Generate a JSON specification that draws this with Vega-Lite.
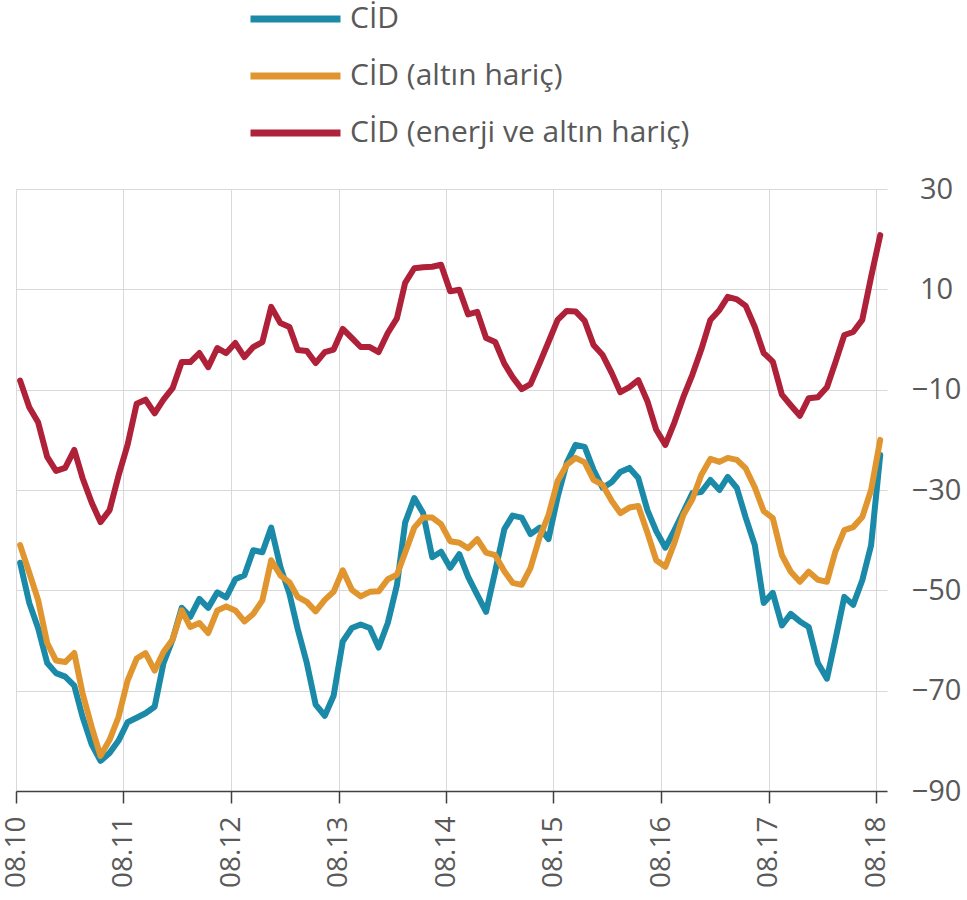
{
  "$schema": "https://vega.github.io/schema/vega-lite/v6.json",
  "width": 871,
  "height": 602,
  "autosize": {"type": "none"},
  "padding": {"left": 16, "top": 189, "right": 80, "bottom": 109},
  "background": "white",
  "config": {"view": {"stroke": null}, "font": "Open Sans"},
  "data": {"values": [
    {"d":"2010-08-15","CİD":-44.5,"CİD (altın hariç)":-41,"CİD (enerji ve altın hariç)":-8.2},
    {"d":"2010-09-15","CİD":-52.5,"CİD (altın hariç)":-46.5,"CİD (enerji ve altın hariç)":-13.5},
    {"d":"2010-10-15","CİD":-57.5,"CİD (altın hariç)":-51.9,"CİD (enerji ve altın hariç)":-16.5},
    {"d":"2010-11-15","CİD":-64.5,"CİD (altın hariç)":-60.5,"CİD (enerji ve altın hariç)":-23.4},
    {"d":"2010-12-15","CİD":-66.5,"CİD (altın hariç)":-64,"CİD (enerji ve altın hariç)":-26.2},
    {"d":"2011-01-15","CİD":-67.2,"CİD (altın hariç)":-64.3,"CİD (enerji ve altın hariç)":-25.6},
    {"d":"2011-02-15","CİD":-69,"CİD (altın hariç)":-62.5,"CİD (enerji ve altın hariç)":-22},
    {"d":"2011-03-15","CİD":-75.2,"CİD (altın hariç)":-70.5,"CİD (enerji ve altın hariç)":-27.6},
    {"d":"2011-04-15","CİD":-80.7,"CİD (altın hariç)":-77.2,"CİD (enerji ve altın hariç)":-32.5},
    {"d":"2011-05-15","CİD":-84,"CİD (altın hariç)":-83,"CİD (enerji ve altın hariç)":-36.4},
    {"d":"2011-06-15","CİD":-82.4,"CİD (altın hariç)":-79.8,"CİD (enerji ve altın hariç)":-34},
    {"d":"2011-07-15","CİD":-80,"CİD (altın hariç)":-75.3,"CİD (enerji ve altın hariç)":-27.2},
    {"d":"2011-08-15","CİD":-76.3,"CİD (altın hariç)":-68,"CİD (enerji ve altın hariç)":-21},
    {"d":"2011-09-15","CİD":-75.4,"CİD (altın hariç)":-63.6,"CİD (enerji ve altın hariç)":-12.8},
    {"d":"2011-10-15","CİD":-74.5,"CİD (altın hariç)":-62.5,"CİD (enerji ve altın hariç)":-12},
    {"d":"2011-11-15","CİD":-73.2,"CİD (altın hariç)":-66,"CİD (enerji ve altın hariç)":-14.7},
    {"d":"2011-12-15","CİD":-64.5,"CİD (altın hariç)":-62.3,"CİD (enerji ve altın hariç)":-12},
    {"d":"2012-01-15","CİD":-59.8,"CİD (altın hariç)":-59.8,"CİD (enerji ve altın hariç)":-9.7},
    {"d":"2012-02-15","CİD":-53.5,"CİD (altın hariç)":-54,"CİD (enerji ve altın hariç)":-4.5},
    {"d":"2012-03-15","CİD":-55.3,"CİD (altın hariç)":-57.3,"CİD (enerji ve altın hariç)":-4.5},
    {"d":"2012-04-15","CİD":-51.7,"CİD (altın hariç)":-56.5,"CİD (enerji ve altın hariç)":-2.7},
    {"d":"2012-05-15","CİD":-53.5,"CİD (altın hariç)":-58.5,"CİD (enerji ve altın hariç)":-5.5},
    {"d":"2012-06-15","CİD":-50.4,"CİD (altın hariç)":-54,"CİD (enerji ve altın hariç)":-1.7},
    {"d":"2012-07-15","CİD":-51.4,"CİD (altın hariç)":-53.2,"CİD (enerji ve altın hariç)":-2.7},
    {"d":"2012-08-15","CİD":-47.8,"CİD (altın hariç)":-54,"CİD (enerji ve altın hariç)":-0.7},
    {"d":"2012-09-15","CİD":-47,"CİD (altın hariç)":-56.2,"CİD (enerji ve altın hariç)":-3.5},
    {"d":"2012-10-15","CİD":-42,"CİD (altın hariç)":-54.7,"CİD (enerji ve altın hariç)":-1.5},
    {"d":"2012-11-15","CİD":-42.4,"CİD (altın hariç)":-52,"CİD (enerji ve altın hariç)":-0.5},
    {"d":"2012-12-15","CİD":-37.5,"CİD (altın hariç)":-44,"CİD (enerji ve altın hariç)":6.5},
    {"d":"2013-01-15","CİD":-45.3,"CİD (altın hariç)":-47,"CİD (enerji ve altın hariç)":3.3},
    {"d":"2013-02-15","CİD":-50.7,"CİD (altın hariç)":-48.4,"CİD (enerji ve altın hariç)":2.5},
    {"d":"2013-03-15","CİD":-57.7,"CİD (altın hariç)":-51.3,"CİD (enerji ve altın hariç)":-2.1},
    {"d":"2013-04-15","CİD":-64.5,"CİD (altın hariç)":-52.3,"CİD (enerji ve altın hariç)":-2.3},
    {"d":"2013-05-15","CİD":-72.8,"CİD (altın hariç)":-54.2,"CİD (enerji ve altın hariç)":-4.7},
    {"d":"2013-06-15","CİD":-75,"CİD (altın hariç)":-51.9,"CİD (enerji ve altın hariç)":-2.5},
    {"d":"2013-07-15","CİD":-71,"CİD (altın hariç)":-50.3,"CİD (enerji ve altın hariç)":-2},
    {"d":"2013-08-15","CİD":-60.2,"CİD (altın hariç)":-46,"CİD (enerji ve altın hariç)":2.1},
    {"d":"2013-09-15","CİD":-57.5,"CİD (altın hariç)":-49.9,"CİD (enerji ve altın hariç)":0.3},
    {"d":"2013-10-15","CİD":-56.8,"CİD (altın hariç)":-51.2,"CİD (enerji ve altın hariç)":-1.5},
    {"d":"2013-11-15","CİD":-57.5,"CİD (altın hariç)":-50.3,"CİD (enerji ve altın hariç)":-1.5},
    {"d":"2013-12-15","CİD":-61.4,"CİD (altın hariç)":-50.2,"CİD (enerji ve altın hariç)":-2.5},
    {"d":"2014-01-15","CİD":-56.5,"CİD (altın hariç)":-47.8,"CİD (enerji ve altın hariç)":1.3},
    {"d":"2014-02-15","CİD":-49,"CİD (altın hariç)":-46.9,"CİD (enerji ve altın hariç)":4.2},
    {"d":"2014-03-15","CİD":-36.5,"CİD (altın hariç)":-42.5,"CİD (enerji ve altın hariç)":11.3},
    {"d":"2014-04-15","CİD":-31.6,"CİD (altın hariç)":-37.5,"CİD (enerji ve altın hariç)":14.2},
    {"d":"2014-05-15","CİD":-34.6,"CİD (altın hariç)":-35.5,"CİD (enerji ve altın hariç)":14.4},
    {"d":"2014-06-15","CİD":-43.4,"CİD (altın hariç)":-35.5,"CİD (enerji ve altın hariç)":14.5},
    {"d":"2014-07-15","CİD":-42.3,"CİD (altın hariç)":-36.8,"CİD (enerji ve altın hariç)":14.9},
    {"d":"2014-08-15","CİD":-45.5,"CİD (altın hariç)":-40.2,"CİD (enerji ve altın hariç)":9.6},
    {"d":"2014-09-15","CİD":-42.8,"CİD (altın hariç)":-40.5,"CİD (enerji ve altın hariç)":9.9},
    {"d":"2014-10-15","CİD":-47.3,"CİD (altın hariç)":-41.6,"CİD (enerji ve altın hariç)":5},
    {"d":"2014-11-15","CİD":-50.9,"CİD (altın hariç)":-39.8,"CİD (enerji ve altın hariç)":5.5},
    {"d":"2014-12-15","CİD":-54.3,"CİD (altın hariç)":-42.5,"CİD (enerji ve altın hariç)":0.3},
    {"d":"2015-01-15","CİD":-46.2,"CİD (altın hariç)":-43,"CİD (enerji ve altın hariç)":-0.5},
    {"d":"2015-02-15","CİD":-37.8,"CİD (altın hariç)":-46.2,"CİD (enerji ve altın hariç)":-4.8},
    {"d":"2015-03-15","CİD":-35.1,"CİD (altın hariç)":-48.5,"CİD (enerji ve altın hariç)":-7.5},
    {"d":"2015-04-15","CİD":-35.5,"CİD (altın hariç)":-48.9,"CİD (enerji ve altın hariç)":-9.9},
    {"d":"2015-05-15","CİD":-38.8,"CİD (altın hariç)":-45.5,"CİD (enerji ve altın hariç)":-8.9},
    {"d":"2015-06-15","CİD":-37.5,"CİD (altın hariç)":-39.4,"CİD (enerji ve altın hariç)":-4.7},
    {"d":"2015-07-15","CİD":-39.8,"CİD (altın hariç)":-35,"CİD (enerji ve altın hariç)":-0.5},
    {"d":"2015-08-15","CİD":-31.4,"CİD (altın hariç)":-28.2,"CİD (enerji ve altın hariç)":3.9},
    {"d":"2015-09-15","CİD":-24.6,"CİD (altın hariç)":-25,"CİD (enerji ve altın hariç)":5.7},
    {"d":"2015-10-15","CİD":-21,"CİD (altın hariç)":-23.6,"CİD (enerji ve altın hariç)":5.6},
    {"d":"2015-11-15","CİD":-21.4,"CİD (altın hariç)":-24.5,"CİD (enerji ve altın hariç)":3.7},
    {"d":"2015-12-15","CİD":-26,"CİD (altın hariç)":-28,"CİD (enerji ve altın hariç)":-1.1},
    {"d":"2016-01-15","CİD":-29.6,"CİD (altın hariç)":-29,"CİD (enerji ve altın hariç)":-3.1},
    {"d":"2016-02-15","CİD":-28.4,"CİD (altın hariç)":-32.2,"CİD (enerji ve altın hariç)":-6.7},
    {"d":"2016-03-15","CİD":-26.4,"CİD (altın hariç)":-34.6,"CİD (enerji ve altın hariç)":-10.5},
    {"d":"2016-04-15","CİD":-25.6,"CİD (altın hariç)":-33.5,"CİD (enerji ve altın hariç)":-9.5},
    {"d":"2016-05-15","CİD":-27.6,"CİD (altın hariç)":-33.2,"CİD (enerji ve altın hariç)":-8.1},
    {"d":"2016-06-15","CİD":-34,"CİD (altın hariç)":-38.5,"CİD (enerji ve altın hariç)":-12.3},
    {"d":"2016-07-15","CİD":-38.2,"CİD (altın hariç)":-44,"CİD (enerji ve altın hariç)":-18},
    {"d":"2016-08-15","CİD":-41.5,"CİD (altın hariç)":-45.3,"CİD (enerji ve altın hariç)":-21},
    {"d":"2016-09-15","CİD":-38,"CİD (altın hariç)":-40.5,"CİD (enerji ve altın hariç)":-16.5},
    {"d":"2016-10-15","CİD":-34.4,"CİD (altın hariç)":-35,"CİD (enerji ve altın hariç)":-11.5},
    {"d":"2016-11-15","CİD":-30.6,"CİD (altın hariç)":-31.8,"CİD (enerji ve altın hariç)":-7},
    {"d":"2016-12-15","CİD":-30.4,"CİD (altın hariç)":-27,"CİD (enerji ve altın hariç)":-2},
    {"d":"2017-01-15","CİD":-28,"CİD (altın hariç)":-23.8,"CİD (enerji ve altın hariç)":3.9},
    {"d":"2017-02-15","CİD":-30,"CİD (altın hariç)":-24.4,"CİD (enerji ve altın hariç)":5.9},
    {"d":"2017-03-15","CİD":-27.4,"CİD (altın hariç)":-23.6,"CİD (enerji ve altın hariç)":8.5},
    {"d":"2017-04-15","CİD":-29.6,"CİD (altın hariç)":-24,"CİD (enerji ve altın hariç)":8},
    {"d":"2017-05-15","CİD":-35.5,"CİD (altın hariç)":-25.7,"CİD (enerji ve altın hariç)":6.7},
    {"d":"2017-06-15","CİD":-41,"CİD (altın hariç)":-29.5,"CİD (enerji ve altın hariç)":2.5},
    {"d":"2017-07-15","CİD":-52.5,"CİD (altın hariç)":-34.2,"CİD (enerji ve altın hariç)":-2.7},
    {"d":"2017-08-15","CİD":-50.5,"CİD (altın hariç)":-35.6,"CİD (enerji ve altın hariç)":-4.4},
    {"d":"2017-09-15","CİD":-57,"CİD (altın hariç)":-43,"CİD (enerji ve altın hariç)":-11},
    {"d":"2017-10-15","CİD":-54.7,"CİD (altın hariç)":-46.3,"CİD (enerji ve altın hariç)":-13.1},
    {"d":"2017-11-15","CİD":-56.2,"CİD (altın hariç)":-48.3,"CİD (enerji ve altın hariç)":-15.2},
    {"d":"2017-12-15","CİD":-57.3,"CİD (altın hariç)":-46.3,"CİD (enerji ve altın hariç)":-11.7},
    {"d":"2018-01-15","CİD":-64.5,"CİD (altın hariç)":-47.9,"CİD (enerji ve altın hariç)":-11.5},
    {"d":"2018-02-15","CİD":-67.6,"CİD (altın hariç)":-48.3,"CİD (enerji ve altın hariç)":-9.5},
    {"d":"2018-03-15","CİD":-60,"CİD (altın hariç)":-42.4,"CİD (enerji ve altın hariç)":-4.7},
    {"d":"2018-04-15","CİD":-51.3,"CİD (altın hariç)":-38,"CİD (enerji ve altın hariç)":0.9},
    {"d":"2018-05-15","CİD":-52.9,"CİD (altın hariç)":-37.4,"CİD (enerji ve altın hariç)":1.5},
    {"d":"2018-06-15","CİD":-48,"CİD (altın hariç)":-35.4,"CİD (enerji ve altın hariç)":3.9},
    {"d":"2018-07-15","CİD":-41,"CİD (altın hariç)":-30,"CİD (enerji ve altın hariç)":12.5},
    {"d":"2018-08-15","CİD":-23,"CİD (altın hariç)":-20,"CİD (enerji ve altın hariç)":20.8}
  ]},
  "transform": [
    {"fold": ["CİD", "CİD (altın hariç)", "CİD (enerji ve altın hariç)"], "as": ["s", "v"]}
  ],
  "mark": {"type": "line", "strokeWidth": 6, "strokeJoin": "round", "strokeCap": "round"},
  "encoding": {
    "x": {
      "field": "d",
      "type": "temporal",
      "scale": {
        "type": "utc",
        "domain": [
          {"year": 2010, "month": 8, "date": 1, "utc": true},
          {"year": 2018, "month": 9, "date": 7, "utc": true}
        ]
      },
      "axis": {
        "title": null,
        "values": [
          {"year": 2010, "month": 8, "date": 1, "utc": true},
          {"year": 2011, "month": 8, "date": 1, "utc": true},
          {"year": 2012, "month": 8, "date": 1, "utc": true},
          {"year": 2013, "month": 8, "date": 1, "utc": true},
          {"year": 2014, "month": 8, "date": 1, "utc": true},
          {"year": 2015, "month": 8, "date": 1, "utc": true},
          {"year": 2016, "month": 8, "date": 1, "utc": true},
          {"year": 2017, "month": 8, "date": 1, "utc": true},
          {"year": 2018, "month": 8, "date": 1, "utc": true}
        ],
        "format": "%m.%y",
        "labelAngle": -90,
        "labelFontSize": 28,
        "labelColor": "#595959",
        "labelPadding": 13,
        "domainColor": "#404040",
        "domainWidth": 1.5,
        "tickColor": "#404040",
        "tickWidth": 1.5,
        "tickSize": 12,
        "grid": true,
        "gridColor": "#d9d9d9",
        "gridWidth": 1,
        "labelOverlap": false,
        "labelBound": false
      }
    },
    "y": {
      "field": "v",
      "type": "quantitative",
      "scale": {"domain": [-90, 30], "nice": false, "zero": false},
      "axis": {
        "orient": "right",
        "title": null,
        "values": [-90, -70, -50, -30, -10, 10, 30],
        "domain": false,
        "ticks": false,
        "labelAlign": "center",
        "labelPadding": 49,
        "labelFontSize": 29,
        "labelColor": "#595959",
        "grid": true,
        "gridColor": "#d9d9d9",
        "gridWidth": 1
      }
    },
    "color": {
      "field": "s",
      "type": "nominal",
      "scale": {
        "domain": ["CİD", "CİD (altın hariç)", "CİD (enerji ve altın hariç)"],
        "range": ["#1a8aa8", "#e0952f", "#ae2139"]
      },
      "legend": {
        "title": null,
        "orient": "none",
        "legendX": 231,
        "legendY": -186,
        "direction": "vertical",
        "symbolType": "stroke",
        "symbolSize": 8100,
        "symbolStrokeWidth": 7,
        "clipHeight": 32,
        "labelFontSize": 30,
        "labelLimit": 0,
        "labelColor": "#595959",
        "labelOffset": 6,
        "rowPadding": 25
      }
    }
  }
}
